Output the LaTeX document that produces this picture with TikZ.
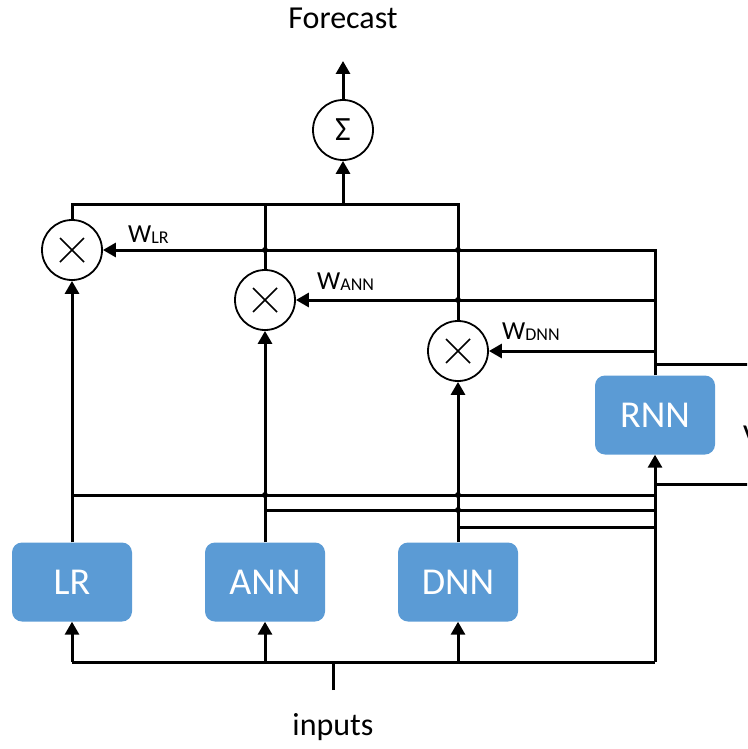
\documentclass[tikz,border=0pt]{standalone}
\usepackage{fontspec}
\setmainfont{Carlito}
\usetikzlibrary{positioning,arrows.meta,calc}
\definecolor{boxFill}{RGB}{91,155,213}
\tikzset{
  model/.style={rectangle, rounded corners=10pt, fill=boxFill, text=white,
                minimum width=120pt, minimum height=79pt, font=\fontsize{38}{38}\selectfont},
  op/.style={circle, draw, line width=1.8pt, minimum size=60pt, inner sep=0pt},
  wire/.style={line width=3pt},
  flow/.style={wire, -{Triangle[length=13pt,width=14pt]}},
  lbl/.style={font=\fontsize{32}{32}\selectfont},
  wlbl/.style={anchor=base west, inner sep=0pt, font=\fontsize{26}{26}\selectfont},
}
\newcommand{\wname}[1]{W{\fontsize{18}{18}\selectfont\raisebox{-1pt}{#1}}}

\begin{document}
\begin{tikzpicture}[x=1pt,y=-1pt]
  \useasboundingbox (0,0) rectangle (747,749);
  \clip (0,0) rectangle (747,749);
  % models
  \node[model] (LR) at (72,582) {LR};
  \node[model] (ANN) at (265,582) {ANN};
  \node[model] (DNN) at (458,582) {DNN};
  \node[model] (RNN) at (655,415) {RNN};
  % weighting and sum
  \node[op] (mLR) at (72,250) {};
  \node[op] (mANN) at (265,300) {};
  \node[op] (mDNN) at (458,351) {};
  \node[op, font=\fontsize{34}{34}\selectfont] (sum) at (343,130) {Σ};
  \foreach \m in {mLR,mANN,mDNN}
    \draw[line width=1.6pt] ([shift={(-12,-12)}]\m.center) -- ([shift={(12,12)}]\m.center)
                            ([shift={(-12,12)}]\m.center) -- ([shift={(12,-12)}]\m.center);
  \node[lbl] (fc) at (343,18) {Forecast};
  \node[lbl] (inp) at (333,727) {inputs};
  \node[wlbl] (wLR) at (128,242) {\wname{LR}};
  \node[wlbl] (wANN) at (317,289) {\wname{ANN}};
  \node[wlbl] (wDNN) at (502,339) {\wname{DNN}};
  \node[lbl, anchor=base west, inner sep=0pt] (vCut) at (743,446) {V};
  \coordinate (bus) at (333,662);
  \coordinate (inEnd) at (333,690);
  \coordinate (top) at (343,204);
  \coordinate (fcTip) at (343,61);
  \coordinate (wTop) at (655,250);
  \coordinate (hLR) at (0,495);
  \coordinate (hANN) at (0,510);
  \coordinate (hDNN) at (0,527);
  \coordinate (outA) at (752,364);
  \coordinate (outB) at (752,484);

  % inputs
  \draw[wire] (inEnd) -- (bus);
  \draw[wire] (LR.south |- bus) -- (RNN.south |- bus);
  \foreach \m in {LR,ANN,DNN,RNN}
    \draw[flow] (\m.south |- bus) -- (\m.south);

  % model outputs
  \draw[flow] (LR.north) -- (mLR.south);
  \draw[flow] (ANN.north) -- (mANN.south);
  \draw[flow] (DNN.north) -- (mDNN.south);
  \draw[wire] (LR.north |- hLR) -- (RNN.south |- hLR);
  \draw[wire] (ANN.north |- hANN) -- (RNN.south |- hANN);
  \draw[wire] (DNN.north |- hDNN) -- (RNN.south |- hDNN);

  % weights from RNN
  \draw[flow] (RNN.north) -- (wTop) -- (mLR.east);
  \draw[flow] (RNN.north |- mANN) -- (mANN.east);
  \draw[flow] (RNN.north |- mDNN) -- (mDNN.east);
  \draw[wire] (RNN.north |- outA) -- (outA);
  \draw[wire] (RNN.south |- outB) -- (outB);

  % sum
  \draw[wire] (mLR.north) -- (mLR.north |- top) -- (mDNN.north |- top) -- (mDNN.north);
  \draw[wire] (mANN.north) -- (mANN.north |- top);
  \draw[flow] (top) -- (sum.south);
  \draw[flow] (sum.north) -- (fcTip);

  % crossing dots
  \fill (mANN.north |- wTop) circle (3) (mDNN.north |- wTop) circle (3)
        (mDNN.north |- mANN) circle (3)
        (ANN.north |- hLR) circle (3) (DNN.north |- hLR) circle (3)
        (DNN.north |- hANN) circle (3);
\end{tikzpicture}
\end{document}
